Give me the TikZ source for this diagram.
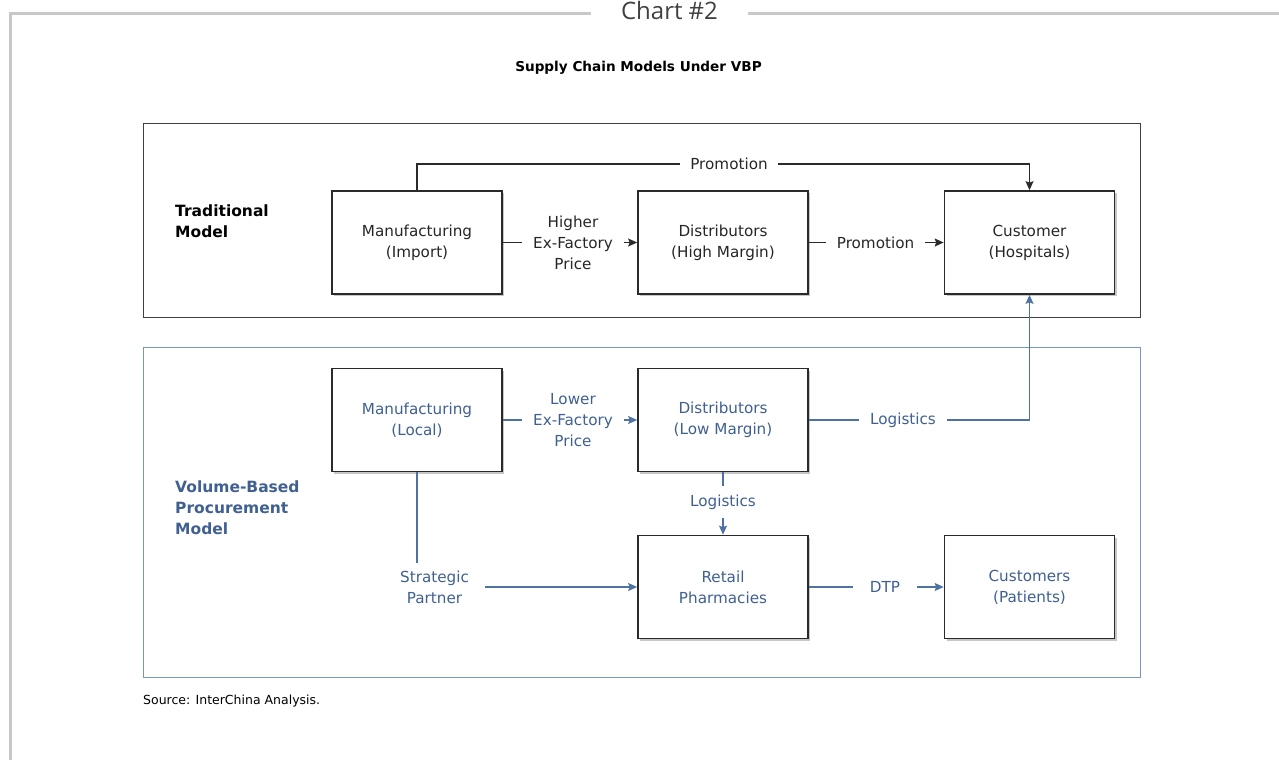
\documentclass[tikz,border=0pt]{standalone}
\usepackage{fontspec}
\setmainfont{DejaVu Sans}
\newfontfamily\chartfont{Open Sans}
\usetikzlibrary{arrows.meta,shadows}
\definecolor{vbpblue}{HTML}{3F6090}
\definecolor{vbpline}{HTML}{4F72A4}
\definecolor{vbpframe}{HTML}{7A98BE}
\definecolor{framegray}{HTML}{C8C8C8}
\definecolor{darkline}{HTML}{2A2A2A}
\definecolor{textgray}{HTML}{262626}
\newcommand\fsz[1]{\fontsize{#1}{21}\selectfont}
\begin{document}
\begin{tikzpicture}[x=1pt,y=-1pt,
  box/.style={draw=darkline, line width=1.7pt, fill=white, minimum width=170pt, minimum height=103pt,
    inner sep=0pt, align=center, font=\fsz{15.2}, text=textgray,
    drop shadow={shadow xshift=2pt, shadow yshift=-2pt, fill=black, opacity=0.22}},
  lbl/.style={align=center, font=\fsz{15.2}, inner xsep=11pt, inner ysep=2pt, text=textgray},
  blbl/.style={lbl, text=vbpblue},
  tline/.style={draw=darkline, line width=1.15pt},
  bline/.style={draw=vbpline, line width=1.15pt},
  arr/.style={-{Stealth[length=9pt,width=8pt,inset=1.5pt]}},
  section/.style={align=left, inner sep=0pt, font=\fontsize{15.5}{21}\selectfont\bfseries}
]
\useasboundingbox (0,0) rectangle (1279,760);
% outer chart frame
\draw[framegray, line width=3pt] (10.5,760) -- (10.5,13.5) -- (591,13.5);
\draw[framegray, line width=3pt] (748,13.5) -- (1279,13.5);
\node[anchor=base, inner sep=0pt, text=black!75, font=\chartfont\fontsize{24}{28}\selectfont] (chart) at (669.5,20) {Chart \#2};
% title
\node[anchor=base, inner sep=0pt, font=\fontsize{13.6}{16}\selectfont\bfseries] (title) at (638.5,71) {Supply Chain Models Under VBP};
% containers
\draw[black!75, line width=1pt] (143,123) rectangle (1140,317);
\draw[vbpframe, line width=1pt] (143,347) rectangle (1140,677);
% section labels
\node[section, anchor=west] (trad) at (175,221) {Traditional\\Model};
\node[section, anchor=west, text=vbpblue] (vbp) at (175,508) {Volume-Based\\Procurement\\Model};
% traditional boxes
\node[box] (mi) at (417,242.5) {Manufacturing\\(Import)};
\node[box] (dh) at (723,242.5) {Distributors\\(High Margin)};
\node[box] (ch) at (1029.5,242.5) {Customer\\(Hospitals)};
% VBP boxes
\node[box, text=vbpblue] (ml) at (417,420) {Manufacturing\\(Local)};
\node[box, text=vbpblue] (dl) at (723,420) {Distributors\\(Low Margin)};
\node[box, text=vbpblue] (rp) at (723,587) {Retail\\Pharmacies};
\node[box, text=vbpblue] (cp) at (1029.5,587) {Customers\\(Patients)};
% traditional connectors
\node[lbl, inner xsep=10pt] (pt) at (729,164) {Promotion};
\draw[tline] (mi.north) -- (mi.north |- pt.west) -- (pt.west);
\draw[tline, arr] (pt.east) -- (pt.east -| ch.north) -- (ch.north);
\node[lbl] (hep) at (573,242.5) {Higher\\Ex-Factory\\Price};
\draw[tline] (mi.east) -- (hep.west);
\draw[tline, arr] (hep.east) -- (dh.west);
\node[lbl] (pm) at (875.5,242.5) {Promotion};
\draw[tline] (dh.east) -- (pm.west);
\draw[tline, arr] (pm.east) -- (ch.west);
% VBP connectors
\node[blbl] (lep) at (573,420) {Lower\\Ex-Factory\\Price};
\draw[bline] (ml.east) -- (lep.west);
\draw[bline, arr] (lep.east) -- (dl.west);
\node[blbl] (lr) at (903,420) {Logistics};
\draw[bline] (dl.east) -- (lr.west);
\draw[bline, arr] (lr.east) -- (lr.east -| ch.south) -- (ch.south);
\node[blbl, inner ysep=8pt] (lv) at (723,502) {Logistics};
\draw[bline] (dl.south) -- (lv.north);
\draw[bline, arr] (lv.south) -- (rp.north);
\node[blbl, inner xsep=17pt] (dtp) at (885,587) {DTP};
\draw[bline] (rp.east) -- (dtp.west);
\draw[bline, arr] (dtp.east) -- (cp.west);
\node[blbl, inner xsep=16pt, inner ysep=7pt] (sp) at (434.5,587) {Strategic\\Partner};
\draw[bline] (ml.south) -- (ml.south |- sp.north);
\draw[bline, arr] (sp.east) -- (rp.west);
% source
\node[anchor=base west, inner sep=0pt, font=\fontsize{12.5}{14}\selectfont] (src) at (143,704) {Source: InterChina Analysis.};
\end{tikzpicture}
\end{document}
